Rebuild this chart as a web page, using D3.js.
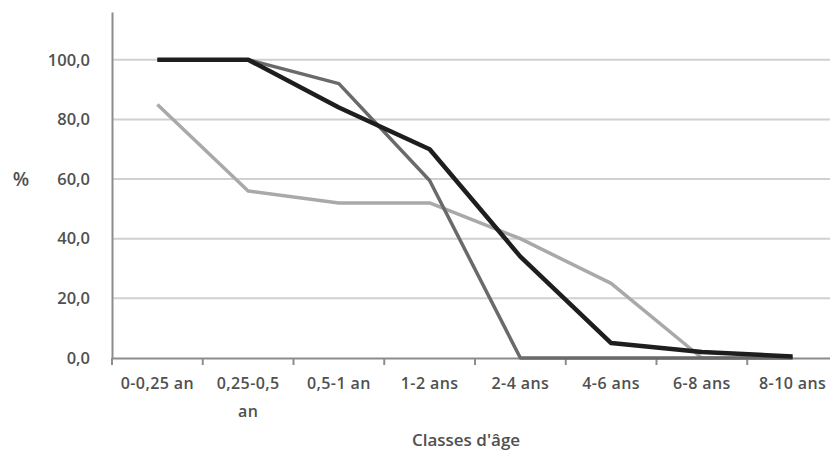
<!DOCTYPE html>
<html><head><meta charset="utf-8">
<script src="https://cdn.jsdelivr.net/npm/d3@7"></script>
<style>body{margin:0;background:#fff}svg{display:block}text{font-family:"Open Sans",sans-serif}</style>
</head><body><svg id="c" width="830" height="454"></svg>
<script>
const categories = ["0-0,25 an","0,25-0,5 an","0,5-1 an","1-2 ans","2-4 ans","4-6 ans","6-8 ans","8-10 ans"];
const seriesBlack = [100,100,84,70,34,5,2,0.5];
const seriesDark  = [100,100,92,59.5,0,0,0,0];
const seriesLight = [85,56,52,52,40,25,0,0];
const yTicks = [0,20,40,60,80,100];

const svg = d3.select("#c");
const x = d3.scaleBand().domain(categories).range([112, 838]);
const y = d3.scaleLinear().domain([0, 116]).range([358, 12]);
const fmt = v => d3.format(".1f")(v).replace(".", ",");
const textCol = "#505050";

// gridlines
svg.append("g").selectAll("line").data(yTicks.filter(d => d > 0)).join("line")
  .attr("x1", 112).attr("x2", 830).attr("y1", d => y(d)).attr("y2", d => y(d))
  .attr("stroke", "#d0d0d0").attr("stroke-width", 2);

// y axis
const ya = svg.append("g").attr("transform", "translate(112,0)")
  .call(d3.axisLeft(y).tickValues(yTicks).tickFormat(fmt).tickSize(0).tickPadding(22));
ya.select(".domain").attr("stroke", "#8c8c8c").attr("stroke-width", 2);
ya.selectAll("text").attr("fill", textCol).attr("font-size", 16.5).attr("font-weight", 600)
  .attr("font-family", '"Open Sans",sans-serif');

// x axis
const xa = svg.append("g").attr("transform", "translate(0,358)")
  .call(d3.axisBottom(x).tickSize(0).tickPadding(20));
xa.select(".domain").attr("stroke", "#8c8c8c").attr("stroke-width", 2);
xa.selectAll("text").attr("fill", textCol).attr("font-size", 16).attr("font-weight", 600)
  .attr("letter-spacing", 0.4).attr("font-family", '"Open Sans",sans-serif')
  .each(function(d){
    const t = d3.select(this);
    if (d === "0,25-0,5 an") {
      t.text(null);
      t.append("tspan").attr("x", 0).attr("dy", "0.71em").text("0,25-0,5");
      t.append("tspan").attr("x", 0).attr("dy", "1.7em").text("an");
      t.attr("dy", null);
    }
  });
// tick marks at band boundaries
const bounds = categories.map(c => x(c)).concat([x.range()[1]]);
svg.append("g").selectAll("line").data(bounds).join("line")
  .attr("x1", d => d).attr("x2", d => d).attr("y1", 358).attr("y2", 365)
  .attr("stroke", "#8c8c8c").attr("stroke-width", 2);

// lines
const line = d3.line().x((d, i) => x(categories[i]) + x.bandwidth() / 2).y(d => y(d));
svg.append("path").datum(seriesLight).attr("d", line).attr("fill", "none")
  .attr("stroke", "#a9a9a9").attr("stroke-width", 3.5).attr("stroke-linejoin", "round");
svg.append("path").datum(seriesDark).attr("d", line).attr("fill", "none")
  .attr("stroke", "#6a6a6a").attr("stroke-width", 3.5).attr("stroke-linejoin", "round");
svg.append("path").datum(seriesBlack).attr("d", line).attr("fill", "none")
  .attr("stroke", "#1e1e1e").attr("stroke-width", 4.5).attr("stroke-linejoin", "round");

// axis titles
svg.append("text").attr("x", 21).attr("y", 186).attr("text-anchor", "middle")
  .attr("fill", textCol).attr("font-size", 19).attr("font-weight", 600).text("%");
svg.append("text").attr("x", 466).attr("y", 446).attr("text-anchor", "middle")
  .attr("fill", textCol).attr("font-size", 17).attr("font-weight", 600).text("Classes d'âge");
</script></body></html>
